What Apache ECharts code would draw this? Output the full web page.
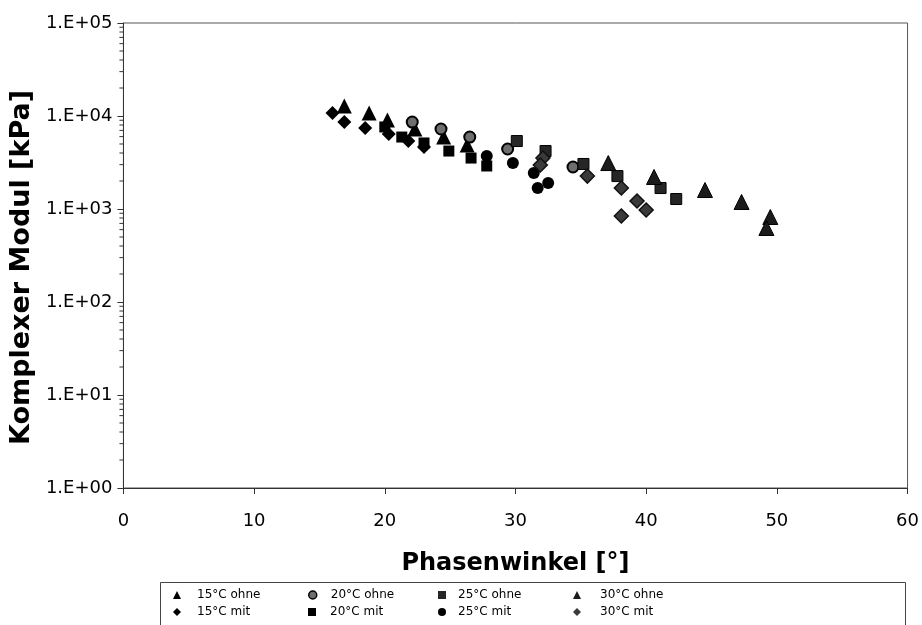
<!DOCTYPE html>
<html><head><meta charset="utf-8">
<script src="https://cdn.jsdelivr.net/npm/echarts/dist/echarts.min.js"></script>
<style>html,body{margin:0;padding:0;background:#fff}#c{width:922px;height:625px}</style>
</head><body><div id="c"></div>
<script>
// ---- data (Phasenwinkel [°], Komplexer Modul [kPa]) ----
const seriesNames = ['15°C ohne','20°C ohne','25°C ohne','30°C ohne','15°C mit','20°C mit','25°C mit','30°C mit'];
const d15ohne = [[16.9,12800],[18.8,10800],[20.2,9050],[22.3,7250],[24.5,5940],[26.3,4870]];
const d20ohne = [[22.1,8610],[24.3,7250],[26.5,5940],[29.4,4420],[34.4,2830]];
const d25ohne = [[30.1,5380],[32.3,4200],[35.2,3050],[37.8,2260],[41.1,1680],[42.3,1280]];
const d30ohne = [[37.1,3120],[40.6,2210],[44.5,1600],[47.3,1190],[49.5,820],[49.2,625]];
const d15mit  = [[16.0,10800],[16.9,8610],[18.5,7430],[20.3,6400],[21.8,5380],[23.0,4640]];
const d20mit  = [[20.0,7620],[21.3,5940],[23.0,5130],[24.9,4200],[26.6,3530],[27.8,2900]];
const d25mit  = [[27.8,3720],[29.8,3120],[31.4,2440],[31.7,1680],[32.5,1900]];
const d30mit  = [[32.1,3530],[31.9,2970],[35.5,2260],[38.1,1680],[39.3,1220],[40.0,975],[38.1,840]];
const xTickLabels = ['0','10','20','30','40','50','60'];
const yTickLabels = ['1.E+00','1.E+01','1.E+02','1.E+03','1.E+04','1.E+05'];
const minorTickFactors = [2,3,4,5,6,7,8,9];

const allData = [d15ohne,d20ohne,d25ohne,d30ohne,d15mit,d20mit,d25mit,d30mit];
const styles = [
  {symbol:'triangle', size:15, color:'#000', border:'#000', bw:0},
  {symbol:'circle', size:11, color:'#6e6e6e', border:'#000', bw:2},
  {symbol:'rect', size:11, color:'#262626', border:'#000', bw:1},
  {symbol:'triangle', size:15, color:'#1c1c1c', border:'#000', bw:1},
  {symbol:'diamond', size:14, color:'#000', border:'#000', bw:0},
  {symbol:'rect', size:11, color:'#000', border:'#000', bw:0},
  {symbol:'circle', size:12, color:'#000', border:'#000', bw:0},
  {symbol:'diamond', size:14, color:'#3a3a3a', border:'#111', bw:1.5}
];

const minorTicks = [];
for (let e = 0; e < 5; e++) minorTickFactors.forEach(f => minorTicks.push([0, f * Math.pow(10, e)]));

const series = allData.map((d, i) => ({
  name: seriesNames[i], type: 'scatter', data: d,
  symbol: styles[i].symbol, symbolSize: styles[i].size,
  itemStyle: {color: styles[i].color, borderColor: styles[i].border, borderWidth: styles[i].bw, opacity: 1},
  emphasis: {disabled: true}, z: 3
}));
series.push({
  type: 'custom', silent: true, z: 2, clip: false,
  data: minorTicks,
  renderItem: (params, api) => {
    const p = api.coord([0, api.value(1)]);
    return {type: 'line', shape: {x1: p[0] - 4, y1: p[1], x2: p[0], y2: p[1]}, style: {stroke: '#333', lineWidth: 1}};
  }
});

// legend: 4 columns x 2 rows
const colSym = [177, 312, 442, 577];
const colText = [197, 330, 458, 600];
const rowY = [596, 613];
const legends = seriesNames.map((n, i) => {
  const col = i % 4, row = Math.floor(i / 4);
  return {
    data: [{name: n, icon: styles[i].symbol,
      itemStyle: {color: styles[i].color, borderColor: '#000', borderWidth: i === 1 ? 1.5 : 0}}],
    left: colSym[col] - 4, top: rowY[row] - 7, padding: 0,
    itemWidth: 8, itemHeight: 8, selectedMode: false,
    textStyle: {fontFamily: 'DejaVu Sans', fontSize: 12, color: '#000',
      padding: [0, 0, 0, colText[col] - colSym[col] - 9]}
  };
});

const chart = echarts.init(document.getElementById('c'), null, {renderer: 'canvas'});
chart.setOption({
  animation: false,
  backgroundColor: '#fff',
  grid: {left: 122, right: 14, top: 23, bottom: 137, show: true, borderColor: '#555', borderWidth: 1, backgroundColor: 'transparent'},
  legend: legends,
  xAxis: {
    type: 'value', min: 0, max: 60, interval: 10,
    name: 'Phasenwinkel [°]', nameLocation: 'middle', nameGap: 64,
    nameTextStyle: {fontFamily: 'DejaVu Sans', fontWeight: 'bold', fontSize: 24, color: '#000'},
    axisLine: {show: true, lineStyle: {color: '#333', width: 1}},
    axisTick: {show: true, length: 6, lineStyle: {color: '#333'}},
    axisLabel: {margin: 24, fontFamily: 'DejaVu Sans', fontSize: 18, color: '#000',
      formatter: v => xTickLabels[Math.round(v / 10)]},
    splitLine: {show: false}
  },
  yAxis: {
    type: 'log', logBase: 10, min: 1, max: 100000,
    name: 'Komplexer Modul [kPa]', nameLocation: 'middle', nameGap: 84, nameRotate: 90,
    nameTextStyle: {fontFamily: 'DejaVu Sans', fontWeight: 'bold', fontSize: 27, color: '#000', padding: [0, 24, 0, 0]},
    axisLine: {show: true, lineStyle: {color: '#333', width: 1}},
    axisTick: {show: true, length: 6, lineStyle: {color: '#333'}},
    axisLabel: {margin: 11, fontFamily: 'DejaVu Sans', fontSize: 18, color: '#000',
      formatter: v => yTickLabels[Math.round(Math.log10(v))]},
    splitLine: {show: false}, minorTick: {show: false}
  },
  graphic: [{
    type: 'rect', shape: {x: 160.5, y: 582.5, width: 745, height: 50},
    style: {fill: 'none', stroke: '#444', lineWidth: 1}, z: 0, silent: true
  }],
  series: series
});
</script></body></html>
